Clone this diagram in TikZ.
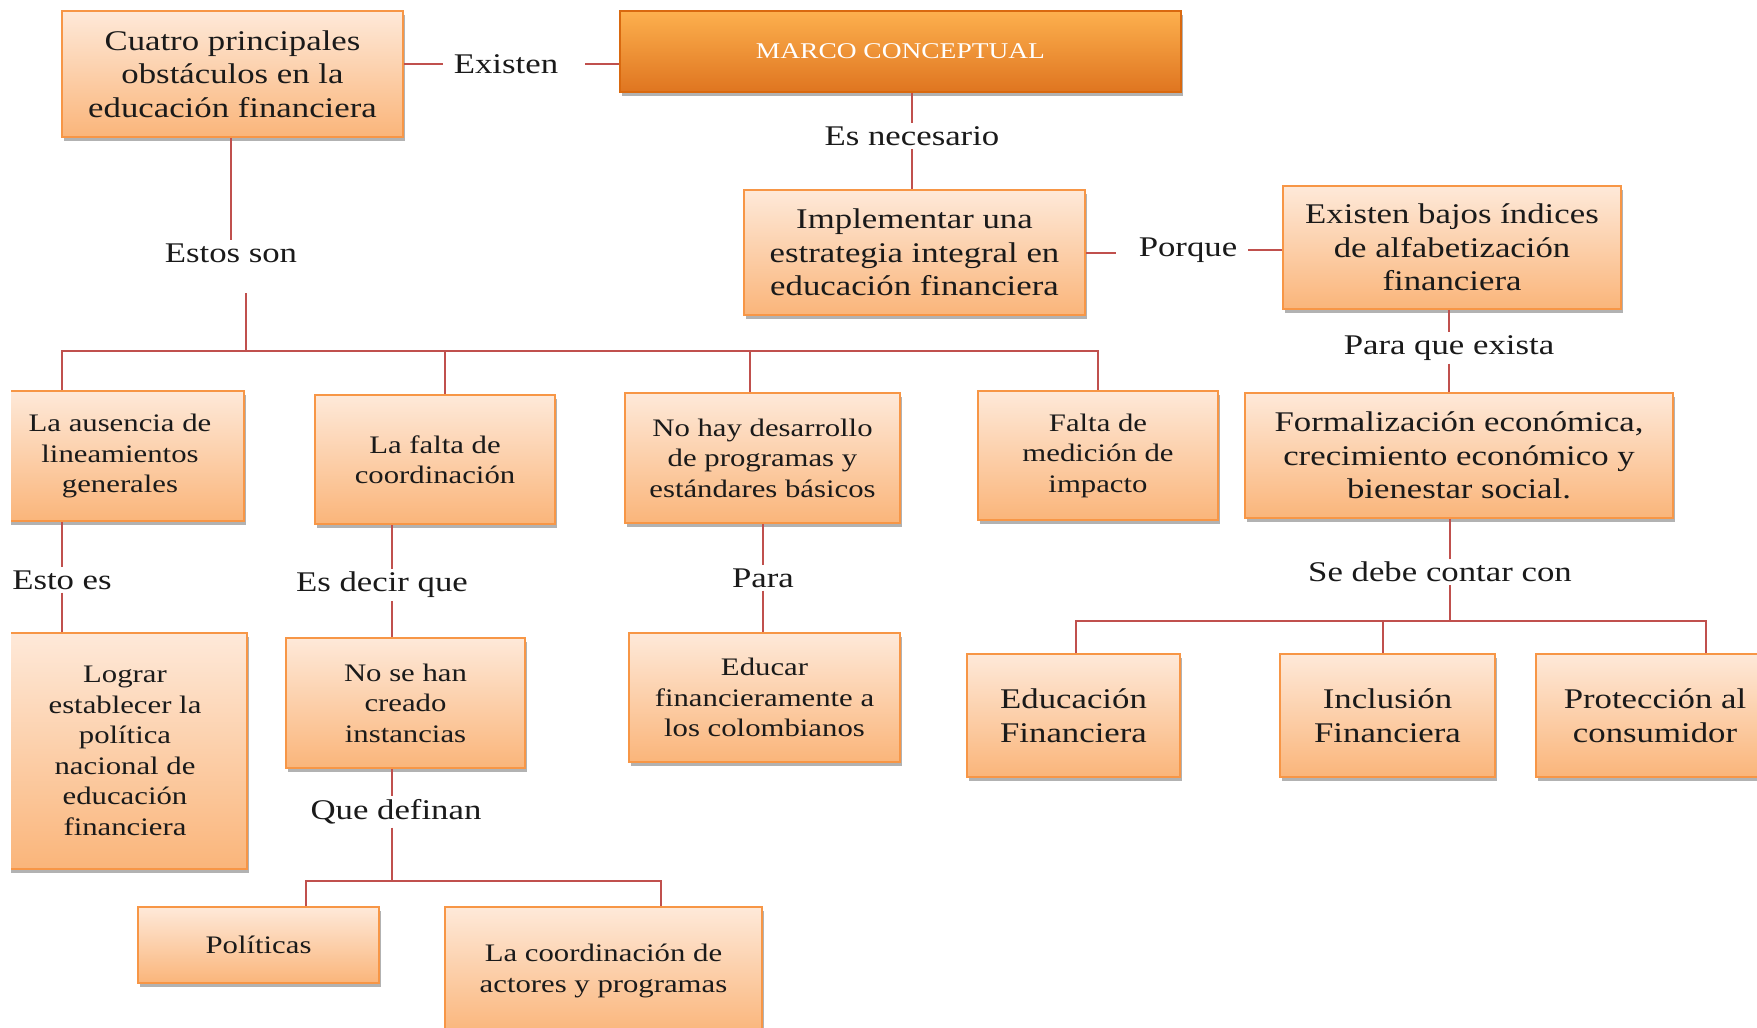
\documentclass[tikz,border=0pt]{standalone}
\usepackage{fontspec}
\setmainfont{Liberation Serif}[FakeStretch=1.22]
\usetikzlibrary{shadows}

\definecolor{boxtop}{HTML}{FEE9D9}
\definecolor{boxbot}{HTML}{FAB57A}
\definecolor{boxline}{HTML}{F79646}
\definecolor{linkred}{HTML}{C0504D}
\definecolor{headtop}{HTML}{FDB04E}
\definecolor{headmid}{HTML}{F7952F}
\definecolor{headbot}{HTML}{DF7520}
\definecolor{headline}{HTML}{D9690F}
\definecolor{ink}{HTML}{1A1A1A}

\tikzset{
  bigtext/.style={font=\fontsize{28.5}{33.5}\selectfont},
  midtext/.style={font=\fontsize{25.2}{30.5}\selectfont},
  softshadow/.style={drop shadow={shadow xshift=1.5pt, shadow yshift=-4pt, fill=black, opacity=0.3}},
  conceptbox/.style={rectangle, draw=boxline, line width=1.8pt, top color=boxtop,
    bottom color=boxbot, softshadow, text=ink, align=center, inner sep=0pt},
  headbox/.style={rectangle, draw=headline, line width=1.8pt, top color=headtop,
    middle color=headmid, bottom color=headbot, softshadow, text=white, align=center,
    inner sep=0pt, font=\fontsize{22.5}{26}\selectfont},
  linklabel/.style={bigtext, text=ink, inner xsep=11pt, inner ysep=3pt},
  link/.style={draw=linkred, line width=2pt},
}

\begin{document}
\begin{tikzpicture}[x=1pt,y=-1pt]
\useasboundingbox (0,0) rectangle (1757,1028);
\fill[white] (0,0) rectangle (1757,1028);
\begin{scope}
\clip (11,0) rectangle (1757,1028);

% ---- boxes ----
\node[headbox, minimum width=561pt, minimum height=81pt] (marco) at (900.5,51.5) {MARCO CONCEPTUAL};
\node[conceptbox, bigtext, minimum width=341pt, minimum height=126pt] (cuatro) at (232.5,74)
  {Cuatro principales\\obstáculos en la\\educación financiera};
\node[conceptbox, bigtext, minimum width=341pt, minimum height=125pt] (impl) at (914.5,252.5)
  {Implementar una\\estrategia integral en\\educación financiera};
\node[conceptbox, bigtext, minimum width=338pt, minimum height=123pt] (bajos) at (1452,247.5)
  {Existen bajos índices\\de alfabetización\\financiera};
\node[conceptbox, bigtext, minimum width=428pt, minimum height=125pt] (formal) at (1459,455.5)
  {Formalización económica,\\crecimiento económico y\\bienestar social.};

\node[conceptbox, midtext, minimum width=248pt, minimum height=130pt] (ausencia) at (120,456)
  {La ausencia de\\lineamientos\\generales};
\node[conceptbox, midtext, minimum width=240pt, minimum height=129pt] (falta) at (435,459.5)
  {La falta de\\coordinación};
\node[conceptbox, midtext, minimum width=275pt, minimum height=130pt] (nohay) at (762.5,458)
  {No hay desarrollo\\de programas y\\estándares básicos};
\node[conceptbox, midtext, minimum width=240pt, minimum height=129pt] (medicion) at (1098,455.5)
  {Falta de\\medición de\\impacto};

\node[conceptbox, midtext, minimum width=244pt, minimum height=236pt] (lograr) at (125,751)
  {Lograr\\establecer la\\política\\nacional de\\educación\\financiera};
\node[conceptbox, midtext, minimum width=239pt, minimum height=130pt] (nosehan) at (405.5,703)
  {No se han\\creado\\instancias};
\node[conceptbox, midtext, minimum width=271pt, minimum height=129pt] (educar) at (764.5,697.5)
  {Educar\\financieramente a\\los colombianos};

\node[conceptbox, bigtext, minimum width=213pt, minimum height=123pt] (edfin) at (1073.5,715.5)
  {Educación\\Financiera};
\node[conceptbox, bigtext, minimum width=215pt, minimum height=123pt] (inclus) at (1387.5,715.5)
  {Inclusión\\Financiera};
\node[conceptbox, bigtext, minimum width=238pt, minimum height=123pt] (protec) at (1655,715.5)
  {Protección al\\consumidor};

\node[conceptbox, midtext, minimum width=241pt, minimum height=76pt] (politicas) at (258.5,945)
  {Políticas};
\node[conceptbox, midtext, minimum width=317pt, minimum height=128pt] (coord) at (603.5,971)
  {La coordinación de\\actores y programas};

% ---- connector labels ----
\node[linklabel] (existen) at (506,64) {Existen};
\node[linklabel] (esnec) at (912,136) {Es necesario};
\node[linklabel] (porque) at (1188,250) {Porque};
\node[linklabel] (estos) at (231,253) {Estos son};
\node[linklabel] (paraque) at (1449,348) {Para que exista};
\node[linklabel] (estoes) at (62,580) {Esto es};
\node[linklabel] (esdecir) at (382,585) {Es decir que};
\node[linklabel] (para) at (763,578) {Para};
\node[linklabel] (sedebe) at (1440,572) {Se debe contar con};
\node[linklabel] (quedef) at (396,812) {Que definan};

% ---- rails and junctions ----
\coordinate (bj0) at (246,293);
\coordinate (bj) at (246,351);
\coordinate (b1) at (62,351);
\coordinate (b2) at (445,351);
\coordinate (b3) at (750,351);
\coordinate (b4) at (1098,351);
\coordinate (k) at (392,0);
\coordinate (q0) at (392,881);
\coordinate (q1) at (306,881);
\coordinate (q2) at (661,881);
\coordinate (s0) at (1450,621);
\coordinate (s1) at (1076,621);
\coordinate (s2) at (1383,621);
\coordinate (s3) at (1706,621);

% ---- connectors ----
\draw[link] (cuatro.east |- existen.west) -- (existen.west);
\draw[link] ([xshift=16pt]existen.east) -- (existen.east -| marco.west);

\draw[link] (esnec.north |- marco.south) -- (esnec.north);
\draw[link] (esnec.south) -- (esnec.south |- impl.north);

\draw[link] (impl.east) -- ([xshift=-12pt]impl.east -| porque.west);
\draw[link] (porque.east) -- (porque.east -| bajos.west);

\draw[link] (paraque.north |- bajos.south) -- (paraque.north);
\draw[link] (paraque.south) -- (paraque.south |- formal.north);

\draw[link] (estos.north |- cuatro.south) -- (estos.north);
\draw[link] (bj0) -- (bj);
\draw[link] (b1 |- ausencia.north) -- (b1) -- (b4) -- (b4 |- medicion.north);
\draw[link] (b2) -- (b2 |- falta.north);
\draw[link] (b3) -- (b3 |- nohay.north);

\draw[link] (estoes.north |- ausencia.south) -- (estoes.north);
\draw[link] (estoes.south) -- (estoes.south |- lograr.north);

\draw[link] (k |- falta.south) -- (k |- esdecir.north);
\draw[link] (k |- esdecir.south) -- (k |- nosehan.north);
\draw[link] (k |- nosehan.south) -- (k |- quedef.north);
\draw[link] (k |- quedef.south) -- (q0);
\draw[link] (q1 |- politicas.north) -- (q1) -- (q2) -- (q2 |- coord.north);

\draw[link] (para.north |- nohay.south) -- (para.north);
\draw[link] (para.south) -- (para.south |- educar.north);

\draw[link] (s0 |- formal.south) -- (s0 |- sedebe.north);
\draw[link] (s0 |- sedebe.south) -- (s0);
\draw[link] (s1 |- edfin.north) -- (s1) -- (s3) -- (s3 |- protec.north);
\draw[link] (s2) -- (s2 |- inclus.north);
\end{scope}
\end{tikzpicture}
\end{document}
